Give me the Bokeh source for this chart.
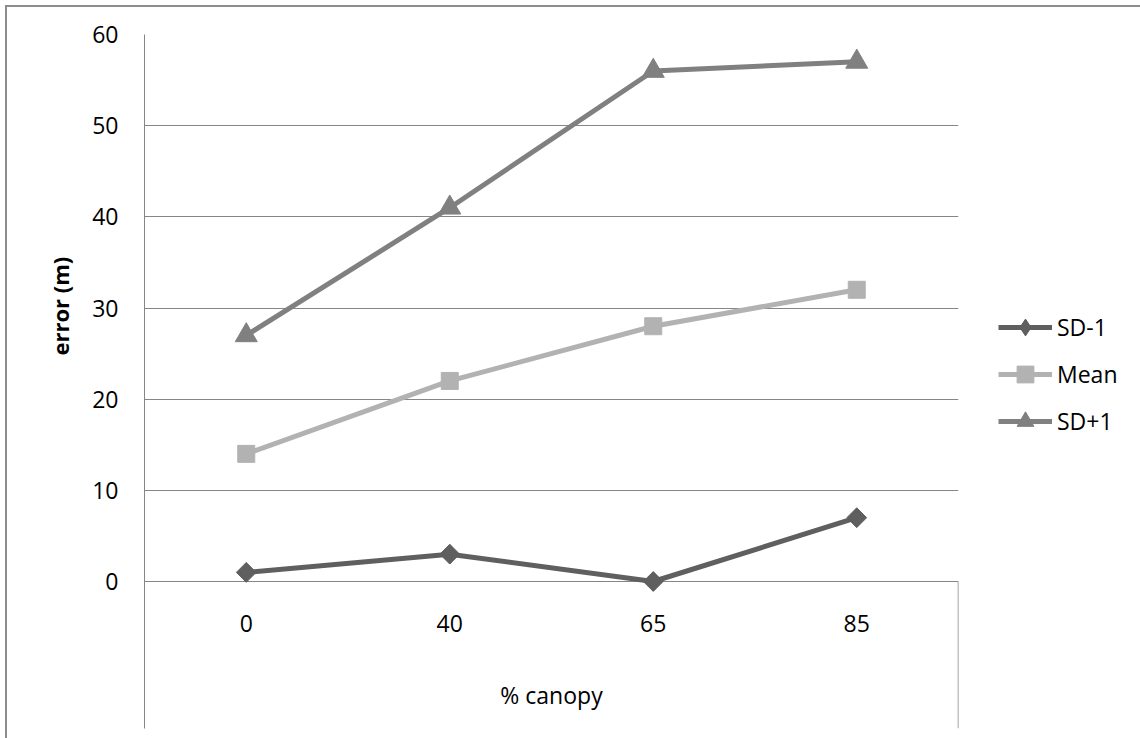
import math

from bokeh.core.properties import value
from bokeh.embed import file_html
from bokeh.models import FixedTicker, Legend, LegendItem, Range1d, Title
from bokeh.plotting import figure
from bokeh.resources import INLINE

# Error at each canopy cover class
canopy = ["0", "40", "65", "85"]
sd_minus = [1, 3, 0, 7]
mean_err = [14, 22, 28, 32]
sd_plus = [27, 41, 56, 57]
y_ticks = [0, 10, 20, 30, 40, 50, 60]

FONT = "Open Sans"
GREY = "#868686"
FS = "23px"

# plot area: 547 px for the value range, plus a 147 px category box below it
AREA_PX = 547
BOX_PX = 147
px = (y_ticks[-1] - y_ticks[0]) / AREA_PX          # data units per pixel
y_box = y_ticks[0] - BOX_PX * px                   # bottom of the category box
y_cat = y_ticks[0] - 42 * px                        # category label row
y_title = y_ticks[0] - 113 * px                     # "% canopy" row

xs = [i + 0.5 for i in range(len(canopy))]

p = figure(
    frame_width=814, frame_height=AREA_PX + BOX_PX,
    output_backend="svg", toolbar_location=None,
    x_range=Range1d(0, len(canopy)), y_range=Range1d(y_box, y_ticks[-1]),
    x_axis_location=None,
    min_border_left=137, min_border_right=182, min_border_top=27, min_border_bottom=10,
)
p.styles = {
    "margin-left": "5px", "margin-top": "5px",
    "border-left": "2px solid #8c8c8c", "border-top": "2px solid #8c8c8c",
}
p.outline_line_color = None
p.background_fill_color = "white"
p.border_fill_color = "white"

p.xgrid.visible = False
p.ygrid.ticker = FixedTicker(ticks=y_ticks)
p.ygrid.grid_line_color = GREY
p.ygrid.grid_line_width = 1

yax = p.yaxis[0]
yax.ticker = FixedTicker(ticks=y_ticks)
yax.major_tick_out = 0
yax.major_tick_in = 0
yax.minor_tick_out = 0
yax.minor_tick_in = 0
yax.axis_line_color = GREY
yax.major_label_text_font = FONT
yax.major_label_text_font_size = FS
yax.major_label_text_color = "black"
yax.major_label_standoff = 26

# value-axis title, centred on the value area rather than the whole box
p.add_layout(
    Title(
        text="error (m)", align="left", offset=373, standoff=30,
        text_font=FONT, text_font_size="22px", text_font_style="bold", text_color="black",
    ),
    "left",
)

# right edge of the category box
p.segment(x0=[len(canopy)], y0=[y_box], x1=[len(canopy)], y1=[y_ticks[0]],
          line_color=GREY, line_width=1.5)

# category labels and axis title
p.text(x=xs, y=[y_cat] * len(xs), text=canopy, text_font=value(FONT),
       text_font_size=FS, text_color="black", text_align="center", text_baseline="middle")
p.text(x=[len(canopy) / 2], y=[y_title], text=["% canopy"], text_font=value(FONT),
       text_font_size=FS, text_color="black", text_align="center", text_baseline="middle")

C_LOW, C_MEAN, C_HIGH = "#5f5f5f", "#b2b2b2", "#808080"
LW = 5

items = []

# SD-1: diamond markers (rotated square, with a diamond core used for the legend key)
ln = p.line(xs, sd_minus, line_color=C_LOW, line_width=LW, line_join="round")
p.scatter(xs, sd_minus, marker="square", angle=math.pi / 4, size=14,
          fill_color=C_LOW, line_color=C_LOW)
dm = p.scatter(xs, sd_minus, marker="diamond", size=19, fill_color=C_LOW, line_color=C_LOW)
items.append(LegendItem(label="SD-1", renderers=[ln, dm]))

# Mean: squares
ln = p.line(xs, mean_err, line_color=C_MEAN, line_width=LW, line_join="round")
sq = p.scatter(xs, mean_err, marker="square", size=17, fill_color=C_MEAN, line_color=C_MEAN)
items.append(LegendItem(label="Mean", renderers=[ln, sq]))

# SD+1: triangles
ln = p.line(xs, sd_plus, line_color=C_HIGH, line_width=LW, line_join="round")
tr = p.scatter(xs, sd_plus, marker="triangle", size=22, fill_color=C_HIGH, line_color=C_HIGH)
items.append(LegendItem(label="SD+1", renderers=[ln, tr]))

legend = Legend(
    items=items, location=(40, 286),
    label_text_font=FONT, label_text_font_size=FS, label_text_color="black",
    glyph_width=54, glyph_height=42, label_height=22, spacing=5,
    label_standoff=5, padding=0, margin=0,
    border_line_color=None, background_fill_alpha=0,
)
p.add_layout(legend, "right")

open("out.html", "w").write(file_html(p, INLINE))
